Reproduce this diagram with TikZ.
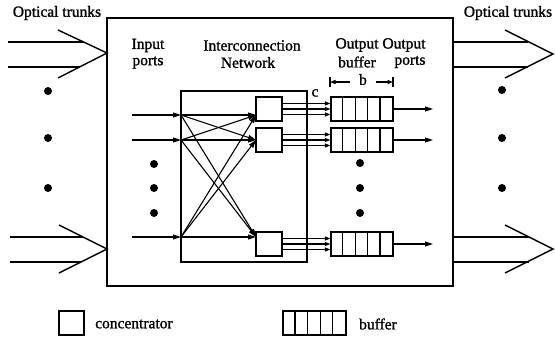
\documentclass[tikz,border=0pt]{standalone}
\usepackage{fontspec}
\setmainfont{Liberation Serif}[FakeBold=1.2]
\usetikzlibrary{arrows.meta}
\begin{document}
\begin{tikzpicture}[x=1pt,y=-1pt,
  lbl/.style={inner sep=0pt, font=\fontsize{15.5}{17}\selectfont},
  mainbox/.style={draw, line width=1.4pt, inner sep=0pt},
  cbox/.style={draw, line width=1.2pt, inner sep=0pt, minimum width=26pt, minimum height=24pt},
  bbox/.style={draw, line width=1.2pt, inner sep=0pt, minimum width=62pt, minimum height=24pt},
  arr/.style={line width=1.1pt, -{Triangle[length=8pt,width=5pt]}},
  sarr/.style={line width=1.1pt, -{Triangle[length=5.5pt,width=4pt]}},
  trunk/.style={line width=1.4pt},
  bigdot/.style={circle, fill, inner sep=0pt, minimum size=8pt},
  cell/.style={line width=1.2pt},
]
\useasboundingbox (0,0) rectangle (555,338);

% frames
\node[mainbox, minimum width=346pt, minimum height=268pt] (main) at (280,152) {};
\node[mainbox, line width=1.2pt, minimum width=126pt, minimum height=171pt] (net) at (244,176.5) {};

% concentrators
\node[cbox] (c1) at (269,109) {};
\node[cbox] (c2) at (269,140) {};
\node[cbox] (c3) at (269,244) {};

% buffers
\node[bbox] (b1) at (362,109) {};
\node[bbox] (b2) at (362,140) {};
\node[bbox] (b3) at (362,244) {};
\foreach \b in {b1,b2,b3}{
  \foreach \k in {1,2,3,4}{
    \draw[cell] ([xshift=\k*12.4pt]\b.south west) -- ([xshift=\k*12.4pt]\b.north west);
  }
}

% inputs
\coordinate (s1) at (132,115); \coordinate (p1) at (181,115); \coordinate (t1) at (256,115);
\coordinate (s2) at (132,140); \coordinate (p2) at (181,140); \coordinate (t2) at (256,140);
\coordinate (s3) at (132,237); \coordinate (p3) at (181,237); \coordinate (t3) at (256,237);
\foreach \i in {1,2,3}{
  \draw[arr] (s\i) -- (p\i);
  \foreach \j in {1,2,3}{
    \draw[arr] (p\i) -- (t\j);
  }
}

% concentrator to buffer
\foreach \i in {1,2,3}{
  \foreach \d in {-5.5,0,5.5}{
    \draw[sarr] ([yshift=\d pt]c\i.east) -- ([yshift=\d pt]b\i.west);
  }
}

% output arrows
\coordinate (o1) at (433,109);
\coordinate (o2) at (433,140);
\coordinate (o3) at (433,244);
\foreach \i in {1,2,3}{ \draw[arr] (b\i.east) -- (o\i); }

% trunks left top
\coordinate (la1) at (8,42);  \coordinate (la2) at (83.6,42);
\coordinate (lb1) at (8,67);  \coordinate (lb2) at (79.6,67);
\coordinate (lc1) at (58,30); \coordinate (lc2) at (107,53); \coordinate (lc3) at (58,78);
\draw[trunk] (la1) -- (la2);
\draw[trunk] (lb1) -- (lb2);
\draw[trunk] (lc1) -- (lc2) -- (lc3);
% trunks left bottom
\coordinate (ld1) at (10,237); \coordinate (ld2) at (83,237);
\coordinate (le1) at (10,262); \coordinate (le2) at (81,262);
\coordinate (lf1) at (59,225); \coordinate (lf2) at (107,249); \coordinate (lf3) at (59,273);
\draw[trunk] (ld1) -- (ld2);
\draw[trunk] (le1) -- (le2);
\draw[trunk] (lf1) -- (lf2) -- (lf3);
% trunks right top
\coordinate (ra1) at (453,42); \coordinate (ra2) at (528,42);
\coordinate (rb1) at (453,67); \coordinate (rb2) at (528,67);
\coordinate (rc1) at (505,30); \coordinate (rc2) at (553,54); \coordinate (rc3) at (505,78);
\draw[trunk] (ra1) -- (ra2);
\draw[trunk] (rb1) -- (rb2);
\draw[trunk] (rc1) -- (rc2) -- (rc3);
% trunks right bottom
\coordinate (rd1) at (453,237); \coordinate (rd2) at (529,237);
\coordinate (re1) at (453,262); \coordinate (re2) at (529,262);
\coordinate (rf1) at (505,225); \coordinate (rf2) at (553,249); \coordinate (rf3) at (505,273);
\draw[trunk] (rd1) -- (rd2);
\draw[trunk] (re1) -- (re2);
\draw[trunk] (rf1) -- (rf2) -- (rf3);

% dots
\node[bigdot] (dl1) at (48,91) {};
\node[bigdot] (dl2) at (48,138) {};
\node[bigdot] (dl3) at (48,188) {};
\node[bigdot] (dr1) at (502,90) {};
\node[bigdot] (dr2) at (502,138) {};
\node[bigdot] (dr3) at (502,188) {};
\node[bigdot] (di1) at (154,164) {};
\node[bigdot] (di2) at (154,188) {};
\node[bigdot] (di3) at (154,213) {};
\node[bigdot] (do1) at (360,163) {};
\node[bigdot] (do2) at (360,188) {};
\node[bigdot] (do3) at (360,213) {};

% labels
\node[lbl] (otl) at (57,13) {Optical trunks};
\node[lbl] (otr) at (508,13) {Optical trunks};
\node[lbl] (ip1) at (148,45.5) {Input};
\node[lbl] (ip2) at (148,62.5) {ports};
\node[lbl] (in1) at (252,45.5) {Interconnection};
\node[lbl] (in2) at (248,62.5) {Network};
\node[lbl] (ob1) at (357,45) {Output};
\node[lbl] (ob2) at (357,62) {buffer};
\node[lbl] (op1) at (404,45) {Output};
\node[lbl] (op2) at (410,62) {ports};
\node[lbl] (lc) at (315,93) {c};

% dimension b
\node[lbl] (lb) at (363,79.5) {b};
\coordinate (dA) at (330,82); \coordinate (dAi) at (350,82);
\coordinate (dB) at (393,82); \coordinate (dBi) at (376,82);
\draw[sarr] (dAi) -- (dA);
\draw[sarr] (dBi) -- (dB);
\draw[line width=1.2pt] (330,77) -- (330,87);
\draw[line width=1.2pt] (393,77) -- (393,87);

% legend
\node[cbox, minimum width=25pt, minimum height=24pt] (lgc) at (71.5,323) {};
\node[lbl, anchor=west] (lgct) at (95,324) {concentrator};
\node[bbox, minimum width=63pt] (lgb) at (314.5,323) {};
\foreach \k in {1,2,3,4}{
  \draw[cell] ([xshift=\k*12.6pt]lgb.south west) -- ([xshift=\k*12.6pt]lgb.north west);
}
\node[lbl, anchor=west] (lgbt) at (359,324) {buffer};
\end{tikzpicture}
\end{document}
